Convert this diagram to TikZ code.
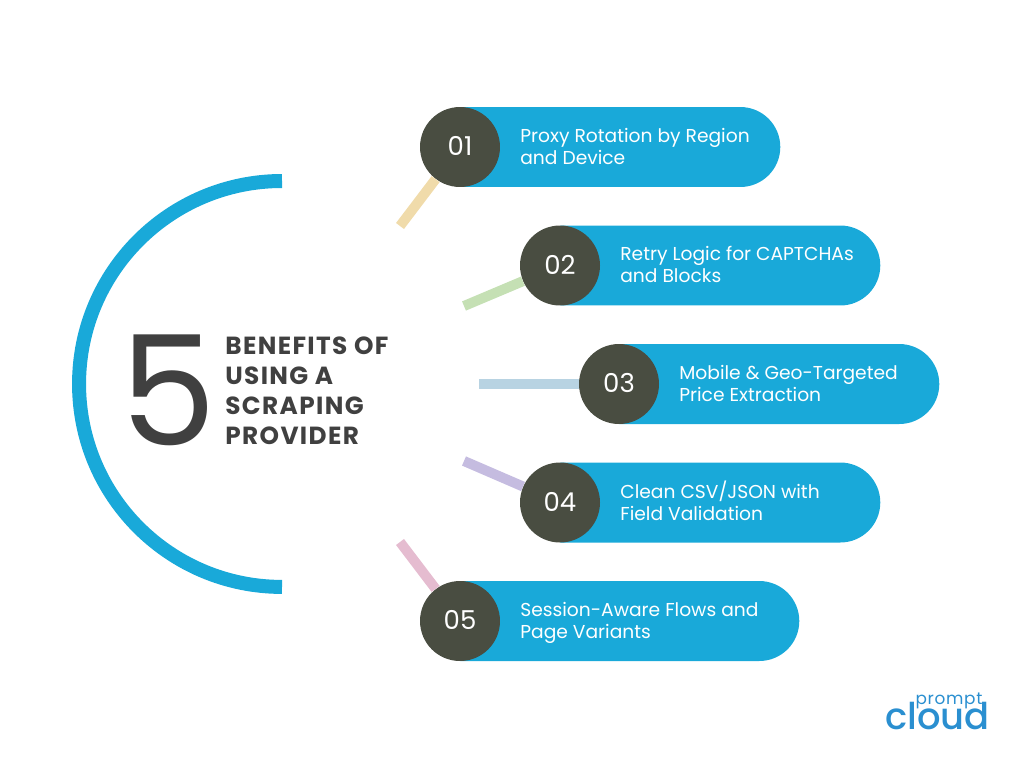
\documentclass[tikz,border=0pt]{standalone}
\usepackage{fontspec}
\setmainfont{Poppins}
\newfontfamily\titlefont[LetterSpace=5.5]{Poppins}
\newfontfamily\logofont[LetterSpace=4]{Poppins}
\newfontfamily\cloudfont{Poppins Medium}
\usepackage{xcolor}
\usetikzlibrary{shapes.misc,positioning}

\definecolor{pillblue}{HTML}{19A9D9}
\definecolor{darkcircle}{HTML}{494D41}
\definecolor{titlegray}{HTML}{404040}
\definecolor{logoblue}{HTML}{2A8FD0}
\definecolor{stubone}{HTML}{F0DBAA}
\definecolor{stubtwo}{HTML}{C5E0B4}
\definecolor{stubthree}{HTML}{B8D3E2}
\definecolor{stubfour}{HTML}{C5BCE0}
\definecolor{stubfive}{HTML}{E5BCD0}

\tikzset{
  pill/.style={rounded rectangle,rounded rectangle west arc=none,fill=pillblue,minimum height=1.6cm,inner sep=0pt,anchor=west},
  numcircle/.style={circle,fill=darkcircle,minimum size=1.6cm,inner sep=0pt,text=white,text depth=1pt,font=\fontsize{14.8}{16}\selectfont},
  pilltext/.style={anchor=west,align=left,inner sep=0pt,text=white,font=\fontsize{10.63}{12.5}\selectfont},
  stub/.style={line width=0.2cm},
}

\begin{document}
\begin{tikzpicture}[x=0.02cm,y=-0.02cm]
\useasboundingbox (0,0) rectangle (1024,768);

\draw[pillblue,line width=0.28cm] (282,181) arc (90:270:4.06cm);

\node[anchor=center,text=titlegray,inner sep=0pt,font=\fontsize{87}{87}\selectfont] (five) at (168,390) {5};
\node[anchor=west,align=left,inner sep=0pt,text=titlegray,font=\titlefont\bfseries\fontsize{14.1}{17.1}\selectfont] (title) at (225,391) {BENEFITS OF\\USING A\\SCRAPING\\PROVIDER};

% stubs
\coordinate (s1) at (400,226);
\coordinate (s2) at (464,306);
\coordinate (s3) at (479,384);
\coordinate (s4) at (464,461);
\coordinate (s5) at (400,542);

\node[pill,minimum width=6.4cm] (p1) at (460,147) {};
\node[pill,minimum width=6.4cm] (p2) at (560,265.5) {};
\node[pill,minimum width=6.4cm] (p3) at (619,384) {};
\node[pill,minimum width=6.4cm] (p4) at (560,502.5) {};
\node[pill,minimum width=6.78cm] (p5) at (460,621) {};

\node[numcircle] (n1) at (460,147) {01};
\node[numcircle] (n2) at (560,265.5) {02};
\node[numcircle] (n3) at (619,384) {03};
\node[numcircle] (n4) at (560,502.5) {04};
\node[numcircle] (n5) at (460,621) {05};

\draw[stub,stubone] (s1) -- (n1);
\draw[stub,stubtwo] (s2) -- (n2);
\draw[stub,stubthree] (s3) -- (n3);
\draw[stub,stubfour] (s4) -- (n4);
\draw[stub,stubfive] (s5) -- (n5);

\node[pilltext] (t1) at (520,146) {Proxy Rotation by Region\\and Device};
\node[pilltext] (t2) at (620,264) {Retry Logic for CAPTCHAs\\and Blocks};
\node[pilltext] (t3) at (679,383) {Mobile \& Geo-Targeted\\Price Extraction};
\node[pilltext] (t4) at (620,500.5) {Clean CSV/JSON with\\Field Validation};
\node[pilltext] (t5) at (520,623) {Session-Aware Flows and\\Page Variants};

% logo
\node[anchor=center,inner sep=0pt,text=logoblue,font=\logofont\fontsize{9.6}{11}\selectfont] (lp) at (949,701) {prompt};
\node[anchor=center,inner sep=0pt,text=logoblue,font=\cloudfont\fontsize{21}{21}\selectfont] (lc) at (937.5,716) {cloud};

\end{tikzpicture}
\end{document}
